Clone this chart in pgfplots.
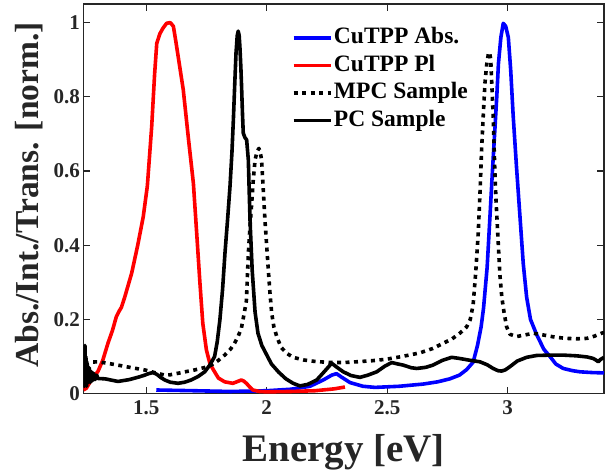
\documentclass[border=0pt]{standalone}
\usepackage{pgfplots}
\pgfplotsset{compat=1.18}
\usepackage{fontspec}
\setmainfont{Liberation Serif}
\definecolor{axgray}{RGB}{38,38,38}
\definecolor{mblue}{RGB}{0,0,255}
\definecolor{mred}{RGB}{255,0,0}
\begin{document}
\begin{tikzpicture}
\path[use as bounding box] (-83.5pt,-78.3pt) rectangle (527.5pt,393.7pt);
\begin{axis}[
  at={(0,0)}, anchor=south west,
  scale only axis, width=520.5pt, height=389.7pt,
  xmin=1.24, xmax=3.4, ymin=0, ymax=1.05,
  xtick={1.5,2,2.5,3}, xticklabels={1.5,2,2.5,3},
  ytick={0,0.2,0.4,0.6,0.8,1}, yticklabels={0,0.2,0.4,0.6,0.8,1},
  axis line style={draw=axgray, line width=1.3pt},
  tick style={draw=axgray, line width=1.1pt},
  major tick length=7pt,
  tick align=inside,
  tick label style={font=\fontsize{21}{25}\selectfont\bfseries, text=axgray},
  xticklabel style={yshift=-3pt},
  xlabel={Energy [eV]},
  ylabel={Abs./Int./Trans. [norm.]},
  xlabel style={at={(axis description cs:0.5,-0.175)}, anchor=base, font=\fontsize{39}{44}\selectfont\bfseries, text=axgray},
  ylabel style={at={(axis description cs:-0.105,0.51)}, anchor=center, font=\fontsize{33.5}{38}\selectfont\bfseries, text=axgray},
  legend style={draw=none, fill=none, at={(axis description cs:0.40,0.94)}, anchor=north west,
    font=\fontsize{23.5}{28}\selectfont\bfseries, row sep=6.5pt, inner sep=0pt,
    nodes={inner xsep=1.5pt, inner ysep=0pt, text height=16pt, text depth=5pt}},
  legend cell align=left,
  legend image code/.code={\draw[#1] (0pt,0pt) -- (37pt,0pt);},
  every axis plot/.append style={line width=3.6pt, line join=round},
]
\addplot[mblue] table {
1.542 0.010
1.70 0.008
1.85 0.006
2.00 0.008
2.10 0.012
2.18 0.020
2.235 0.037
2.27 0.050
2.29 0.054
2.31 0.045
2.346 0.030
2.40 0.020
2.45 0.017
2.55 0.020
2.65 0.026
2.71 0.032
2.76 0.040
2.80 0.050
2.83 0.065
2.857 0.085
2.875 0.13
2.89 0.18
2.90 0.23
2.915 0.34
2.927 0.48
2.937 0.60
2.947 0.71
2.955 0.80
2.962 0.89
2.972 0.96
2.982 0.998
2.992 0.99
3.003 0.96
3.013 0.87
3.023 0.75
3.037 0.61
3.051 0.48
3.065 0.35
3.079 0.26
3.095 0.20
3.12 0.16
3.15 0.12
3.176 0.10
3.20 0.08
3.231 0.068
3.27 0.062
3.3 0.059
3.35 0.057
3.4 0.056
};
\addlegendentry{CuTPP Abs.}
\addplot[mred] table {
1.24 0.01
1.252 0.015
1.275 0.04
1.30 0.06
1.32 0.09
1.342 0.137
1.36 0.17
1.376 0.207
1.39 0.225
1.397 0.232
1.411 0.26
1.44 0.325
1.465 0.40
1.488 0.477
1.505 0.56
1.523 0.72
1.535 0.86
1.544 0.944
1.557 0.97
1.57 0.985
1.585 0.998
1.60 1.0
1.613 0.99
1.623 0.95
1.633 0.908
1.654 0.819
1.675 0.69
1.696 0.567
1.71 0.43
1.723 0.30
1.735 0.19
1.75 0.118
1.765 0.08
1.784 0.059
1.80 0.042
1.826 0.032
1.86 0.028
1.88 0.033
1.895 0.037
1.905 0.034
1.916 0.028
1.93 0.018
1.943 0.01
1.97 0.006
2.0 0.005
2.1 0.006
2.2 0.008
2.28 0.013
2.325 0.018
};
\addlegendentry{CuTPP Pl}
\addplot[black, dash pattern=on 4pt off 4.5pt] table {
1.245 0.082
1.27 0.085
1.30 0.086
1.34 0.082
1.383 0.077
1.44 0.07
1.494 0.064
1.54 0.056
1.577 0.050
1.60 0.051
1.632 0.055
1.67 0.06
1.701 0.064
1.74 0.07
1.77 0.077
1.80 0.09
1.826 0.104
1.85 0.12
1.867 0.136
1.882 0.155
1.895 0.176
1.905 0.21
1.916 0.25
1.924 0.378
1.931 0.45
1.938 0.513
1.945 0.58
1.952 0.63
1.96 0.652
1.968 0.661
1.975 0.645
1.979 0.63
1.986 0.55
1.993 0.468
2.0 0.40
2.007 0.333
2.014 0.27
2.021 0.217
2.03 0.18
2.042 0.154
2.06 0.125
2.083 0.109
2.11 0.098
2.152 0.091
2.2 0.087
2.263 0.084
2.32 0.084
2.374 0.086
2.44 0.089
2.498 0.093
2.56 0.100
2.636 0.110
2.69 0.122
2.733 0.136
2.77 0.148
2.802 0.163
2.83 0.18
2.845 0.20
2.857 0.24
2.868 0.33
2.878 0.432
2.886 0.55
2.892 0.657
2.899 0.75
2.906 0.837
2.913 0.886
2.92 0.915
2.925 0.92
2.93 0.90
2.934 0.84
2.94 0.75
2.947 0.60
2.952 0.52
2.96 0.42
2.968 0.32
2.976 0.26
2.985 0.22
2.996 0.18
3.01 0.16
3.037 0.154
3.07 0.158
3.106 0.163
3.15 0.158
3.2 0.152
3.245 0.149
3.29 0.148
3.328 0.149
3.36 0.155
3.39 0.163
3.4 0.165
};
\addlegendentry{MPC Sample}
\addplot[black] table {
1.240 0.04
1.242 0.12
1.244 0.02
1.246 0.13
1.248 0.03
1.250 0.10
1.253 0.02
1.256 0.08
1.26 0.03
1.264 0.07
1.268 0.03
1.272 0.06
1.277 0.035
1.282 0.055
1.288 0.038
1.295 0.05
1.30 0.041
1.33 0.04
1.383 0.033
1.43 0.038
1.47 0.045
1.494 0.05
1.51 0.054
1.528 0.057
1.545 0.052
1.56 0.044
1.577 0.037
1.60 0.031
1.632 0.028
1.66 0.031
1.687 0.037
1.715 0.046
1.743 0.059
1.765 0.078
1.784 0.10
1.795 0.14
1.806 0.199
1.817 0.28
1.827 0.378
1.838 0.47
1.848 0.559
1.856 0.65
1.862 0.739
1.868 0.84
1.873 0.919
1.878 0.965
1.882 0.977
1.886 0.965
1.889 0.935
1.893 0.88
1.896 0.827
1.90 0.75
1.903 0.702
1.91 0.69
1.917 0.684
1.924 0.63
1.931 0.468
1.94 0.333
1.952 0.22
1.964 0.163
1.98 0.13
2.0 0.105
2.02 0.08
2.05 0.058
2.08 0.04
2.11 0.028
2.138 0.021
2.17 0.025
2.208 0.037
2.24 0.06
2.27 0.082
2.29 0.072
2.318 0.059
2.35 0.049
2.387 0.044
2.42 0.05
2.457 0.059
2.49 0.074
2.519 0.084
2.545 0.08
2.567 0.077
2.60 0.07
2.623 0.068
2.66 0.071
2.69 0.077
2.73 0.09
2.768 0.098
2.80 0.095
2.844 0.09
2.885 0.086
2.915 0.078
2.94 0.068
2.96 0.062
2.975 0.061
2.99 0.064
3.01 0.073
3.04 0.088
3.079 0.098
3.12 0.103
3.176 0.104
3.23 0.104
3.287 0.102
3.33 0.099
3.355 0.095
3.368 0.09
3.376 0.086
3.385 0.092
3.4 0.098
};
\addlegendentry{PC Sample}
\end{axis}
\end{tikzpicture}
\end{document}
